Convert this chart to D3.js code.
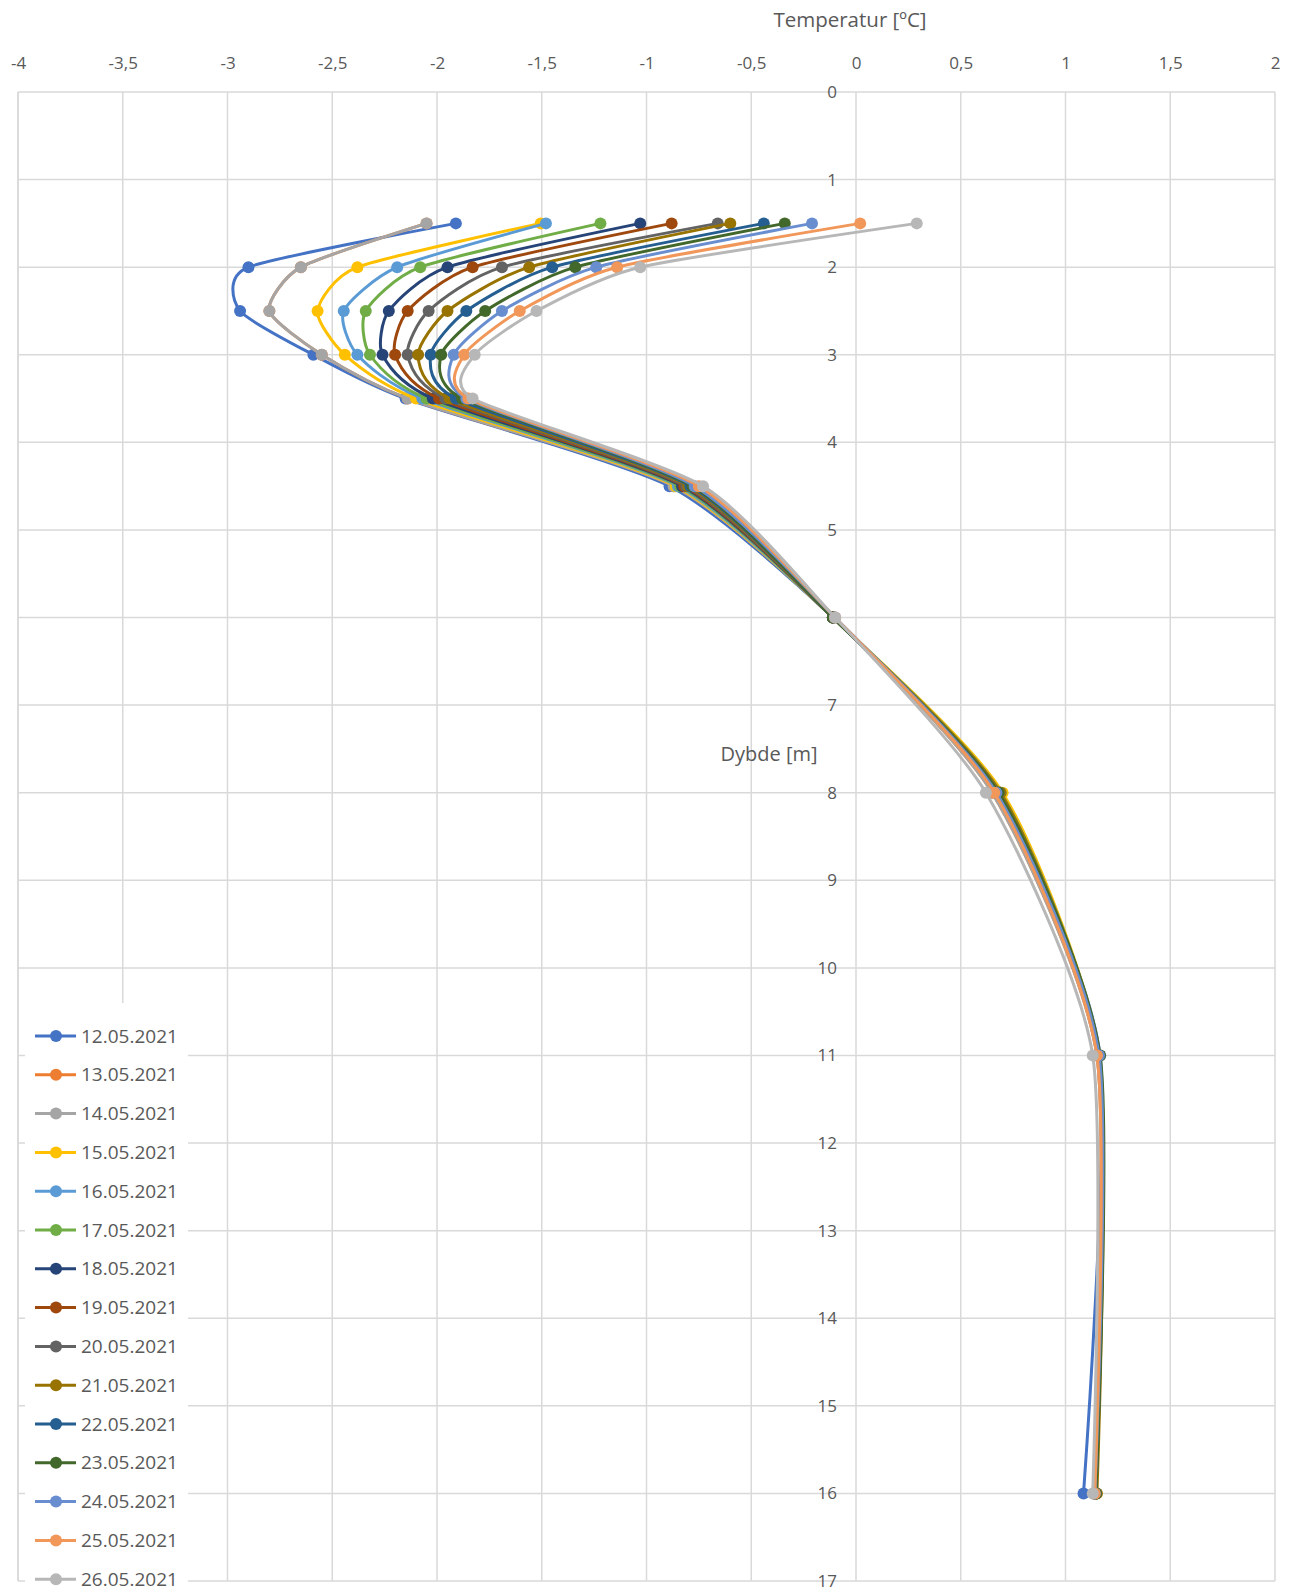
<!DOCTYPE html>
<html>
<head>
<meta charset="utf-8">
<script src="https://cdn.jsdelivr.net/npm/d3@7"></script>
<style>
  body { margin: 0; background: #fff; }
  svg { display: block; font-family: "Open Sans", "Liberation Sans", sans-serif; }
</style>
</head>
<body>
<svg id="chart" width="1298" height="1593"></svg>
<script>
// depths (m) where the sensors sit
var depths = [1.5, 2, 2.5, 3, 3.5, 4.5, 6, 8, 11, 16];

var dates = ["12.05.2021", "13.05.2021", "14.05.2021", "15.05.2021", "16.05.2021",
             "17.05.2021", "18.05.2021", "19.05.2021", "20.05.2021", "21.05.2021",
             "22.05.2021", "23.05.2021", "24.05.2021", "25.05.2021", "26.05.2021"];

var colors = ["#4472C4", "#ED7D31", "#A5A5A5", "#FFC000", "#5B9BD5", "#70AD47",
              "#264478", "#9E480E", "#636363", "#997300", "#255E91", "#43682B",
              "#698ED0", "#F1975A", "#B7B7B7"];

// temperatures per date, one value per depth
var t12 = [-1.91, -2.90, -2.94, -2.59, -2.15, -0.89, -0.11, 0.67, 1.165, 1.086];
var t13 = [-2.05, -2.65, -2.80, -2.55, -2.14, -0.87, -0.11, 0.65, 1.15, 1.135];
var t14 = [-2.05, -2.65, -2.80, -2.55, -2.14, -0.87, -0.11, 0.65, 1.15, 1.135];
var t15 = [-1.505, -2.38, -2.57, -2.44, -2.10, -0.86, -0.11, 0.70, 1.16, 1.14];
var t16 = [-1.48, -2.19, -2.445, -2.38, -2.07, -0.85, -0.11, 0.69, 1.16, 1.14];
var t17 = [-1.22, -2.08, -2.34, -2.32, -2.05, -0.84, -0.11, 0.69, 1.16, 1.145];
var t18 = [-1.03, -1.95, -2.23, -2.26, -2.02, -0.83, -0.11, 0.68, 1.16, 1.14];
var t19 = [-0.88, -1.83, -2.14, -2.20, -1.99, -0.82, -0.11, 0.68, 1.16, 1.145];
var t20 = [-0.66, -1.69, -2.04, -2.14, -1.96, -0.81, -0.11, 0.68, 1.16, 1.14];
var t21 = [-0.60, -1.56, -1.95, -2.09, -1.94, -0.80, -0.11, 0.69, 1.16, 1.15];
var t22 = [-0.44, -1.45, -1.86, -2.03, -1.91, -0.79, -0.11, 0.68, 1.16, 1.145];
var t23 = [-0.34, -1.34, -1.77, -1.98, -1.88, -0.78, -0.11, 0.68, 1.165, 1.145];
var t24 = [-0.21, -1.24, -1.69, -1.92, -1.86, -0.77, -0.10, 0.67, 1.16, 1.14];
var t25 = [0.02, -1.14, -1.605, -1.87, -1.85, -0.75, -0.10, 0.66, 1.15, 1.14];
var t26 = [0.29, -1.03, -1.525, -1.82, -1.83, -0.73, -0.10, 0.62, 1.13, 1.13];

var temps = [t12, t13, t14, t15, t16, t17, t18, t19, t20, t21, t22, t23, t24, t25, t26];

var xTicks = d3.range(-4, 2.01, 0.5);
var yTicks = d3.range(0, 18, 1);

var svg = d3.select("#chart");
var W = 1298, H = 1593;
var TXT = "#595959", GRIDC = "#d9d9d9";

var x = d3.scaleLinear().domain([-4, 2]).range([18, 1275]);
var y = d3.scaleLinear().domain([0, 17]).range([92, 1581]);

var fmt = function (d) { return String(+d.toFixed(1)).replace(".", ","); };

// grid
var grid = svg.append("g").attr("class", "grid");
grid.selectAll("line.v").data(xTicks).enter().append("line")
    .attr("x1", function (d) { return x(d); })
    .attr("x2", function (d) { return x(d); })
    .attr("y1", y(0)).attr("y2", y(17))
    .attr("stroke", GRIDC).attr("stroke-width", 1.5);
grid.selectAll("line.h").data(yTicks).enter().append("line")
    .attr("x1", x(-4)).attr("x2", x(2))
    .attr("y1", function (d) { return y(d); })
    .attr("y2", function (d) { return y(d); })
    .attr("stroke", GRIDC).attr("stroke-width", 1.5);

// top axis
var xAxis = svg.append("g")
    .attr("transform", "translate(0,63)")
    .call(d3.axisTop(x).tickValues(xTicks).tickSize(0).tickPadding(0).tickFormat(fmt));
xAxis.select(".domain").remove();
xAxis.selectAll("text")
    .attr("dy", "0.35em")
    .attr("fill", TXT).style("font-size", "17px")
    .style("font-family", "'Open Sans', sans-serif");

// depth axis at x = 0
var yAxis = svg.append("g")
    .attr("transform", "translate(" + x(0) + ",0)")
    .call(d3.axisLeft(y).tickValues(yTicks).tickSize(0).tickPadding(19).tickFormat(d3.format("d")));
yAxis.select(".domain").remove();
yAxis.selectAll("text")
    .attr("fill", TXT).style("font-size", "17px")
    .style("font-family", "'Open Sans', sans-serif");

// titles
svg.append("text")
    .attr("x", 850).attr("y", 20).attr("dy", "0.35em")
    .attr("text-anchor", "middle").attr("fill", TXT)
    .style("font-size", "20.5px")
    .text("Temperatur [ºC]");
svg.append("text")
    .attr("x", 769).attr("y", 754).attr("dy", "0.35em")
    .attr("text-anchor", "middle").attr("fill", TXT)
    .style("font-size", "20px")
    .text("Dybde [m]");

// series, smoothed somewhat like excel does
var line = d3.line()
    .x(function (d) { return x(d.t); })
    .y(function (d) { return y(d.z); })
    .curve(d3.curveCardinal.tension(0.35));

var series = dates.map(function (dt, i) {
    return {
        name: dt, color: colors[i],
        pts: depths.map(function (z, j) { return { z: z, t: temps[i][j] }; })
    };
});

var gs = svg.append("g").attr("class", "series")
    .selectAll("g").data(series).enter().append("g");

gs.append("path")
    .attr("d", function (d) { return line(d.pts); })
    .attr("fill", "none")
    .attr("stroke", function (d) { return d.color; })
    .attr("stroke-width", 3)
    .attr("stroke-linejoin", "round");

gs.each(function (s) {
    d3.select(this).selectAll("circle").data(s.pts).enter().append("circle")
        .attr("cx", function (d) { return x(d.t); })
        .attr("cy", function (d) { return y(d.z); })
        .attr("r", 6)
        .attr("fill", s.color);
});

// legend
var LEG_Y = 1036, LEG_STEP = 38.8;
var legend = svg.append("g").attr("class", "legend");
legend.append("rect")
    .attr("x", 25).attr("y", 1003).attr("width", 163).attr("height", H - 1003)
    .attr("fill", "#fff");
var item = legend.selectAll("g.item").data(series).enter().append("g")
    .attr("class", "item")
    .attr("transform", function (d, i) { return "translate(0," + (LEG_Y + i * LEG_STEP) + ")"; });
item.append("line")
    .attr("x1", 35).attr("x2", 76).attr("y1", 0).attr("y2", 0)
    .attr("stroke", function (d) { return d.color; }).attr("stroke-width", 3);
item.append("circle")
    .attr("cx", 56).attr("cy", 0).attr("r", 6)
    .attr("fill", function (d) { return d.color; });
item.append("text")
    .attr("x", 81).attr("y", 0).attr("dy", "0.35em")
    .attr("fill", TXT).style("font-size", "19px")
    .text(function (d) { return d.name; });

// left border line stays visible over the legend box
svg.append("line")
    .attr("x1", x(-4)).attr("x2", x(-4)).attr("y1", y(0)).attr("y2", y(17))
    .attr("stroke", GRIDC).attr("stroke-width", 1.5);
</script>
</body>
</html>
